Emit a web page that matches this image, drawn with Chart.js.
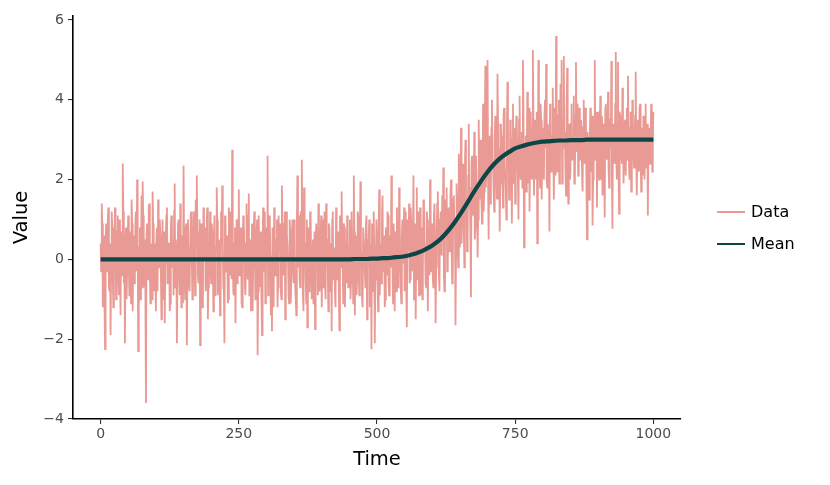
<!DOCTYPE html>
<html><head><meta charset="utf-8">
<script src="https://cdn.jsdelivr.net/npm/chart.js@4.4.1/dist/chart.umd.min.js"></script>
<style>
html,body{margin:0;padding:0;background:#fff;}
#wrap{position:relative;width:830px;height:485px;overflow:hidden;}
#legend{position:absolute;left:717px;top:0;font-family:"DejaVu Sans";font-size:16px;color:#000;}
.item{position:absolute;left:0;display:flex;align-items:center;white-space:nowrap;height:20px;line-height:20px;}
.sw{display:inline-block;width:28px;height:2px;margin-right:6px;}
</style></head>
<body><div id="wrap"><canvas id="c" width="830" height="485"></canvas><div id="legend"></div></div>
<script>
const xTicks = [0, 250, 500, 750, 1000];
const yTicks = [-4, -2, 0, 2, 4, 6];
const seriesNames = ['Data', 'Mean'];
const seriesColors = ['#E99A94', '#0D4646'];
const meanStep = 10;  // time between mean samples

// Data samples at even times t = 0, 2, ..., 1000
const dataEven = [
0.4,1.4,-1.2,0.6,-2.25,0.9,-0.3,1.3,-0.8,-1.9,1.2,-0.5,0.3,1.3,-1.0,0.7,-0.4,1.0,-1.4,0.5,2.4,-0.6,-2.1,0.8,-0.2,
1.1,-0.9,0.2,1.5,-1.3,0.6,-0.4,1.2,2.0,-2.3,0.3,-1.0,1.6,1.95,-0.7,0.5,-3.6,0.9,-0.5,1.4,-1.1,0.2,1.7,-0.8,0.4,
-1.3,0.8,1.5,-0.2,0.6,-1.5,1.0,0.1,-1.6,0.7,1.3,-0.6,0.4,-1.1,1.1,0.3,-0.9,1.9,0.5,-2.1,0.9,-0.3,1.4,-1.2,0.2,
2.35,-0.5,0.8,-2.15,1.0,-0.7,0.3,1.2,-1.0,0.6,-0.3,1.5,2.1,-0.4,0.5,-2.15,0.9,-1.2,1.3,0.0,-0.8,1.0,-1.5,0.4,1.2,
-0.6,0.7,-1.3,1.1,0.2,1.8,-0.9,0.5,-1.4,1.2,1.85,-0.7,-2.1,0.9,0.1,-1.1,1.3,-0.4,0.6,2.75,-0.8,0.4,-1.6,1.0,-0.2,
1.75,-0.3,0.8,-1.2,1.1,0.3,-0.9,1.4,-0.5,1.65,0.2,-1.3,0.9,-0.2,1.2,-1.0,0.6,-2.4,1.1,-0.7,0.4,-1.9,1.3,0.0,-1.1,
0.8,2.6,-0.6,1.0,-1.4,-1.8,0.7,1.3,-0.4,0.5,-1.2,1.1,0.2,-0.8,1.85,-0.3,0.9,-1.5,1.2,0.4,-0.9,1.0,-1.1,0.6,-0.2,
1.0,-0.7,-1.4,2.1,0.3,-0.5,1.2,2.5,-0.9,1.8,0.4,-1.1,-1.7,0.8,-0.3,1.1,-1.0,0.5,-0.4,-1.75,0.9,0.2,1.4,-0.8,0.6,
-1.2,1.0,0.1,-0.6,1.4,0.5,-1.3,0.8,-0.2,-1.8,1.2,0.3,-0.9,1.3,-0.5,0.7,-1.78,0.2,1.7,-0.4,0.9,-1.2,0.4,1.1,-0.7,
0.3,-1.0,1.2,0.0,2.1,-1.4,0.6,-0.5,1.1,-0.9,1.95,0.2,-1.2,0.8,-0.3,0.9,-1.5,0.5,1.0,-0.8,-2.25,0.4,1.2,-2.1,0.1,
0.5,-1.3,1.75,0.2,-0.6,1.6,0.4,-1.2,0.8,-0.4,1.1,-0.9,0.6,2.1,-0.2,0.9,-1.3,0.3,1.3,-0.7,1.8,0.0,-1.1,1.0,0.4,
-0.8,1.2,-1.7,0.5,1.4,-0.5,0.9,-0.2,2.1,0.3,-1.5,1.8,0.6,-0.9,1.3,0.1,-1.0,1.5,0.4,-0.6,1.2,-1.3,0.8,2.0,-0.3,
0.9,-0.7,1.4,-1.6,0.6,1.7,-0.4,1.0,0.2,1.6,2.3,-0.8,0.9,1.8,-0.2,1.3,0.5,2.0,-0.6,1.5,0.8,-1.65,1.9,0.4,2.65,
0.3,3.3,1.0,2.4,-0.2,3.0,1.4,0.6,3.4,1.8,-0.95,2.6,1.2,3.2,0.8,2.0,0.05,3.5,1.5,2.8,0.9,3.9,1.7,4.85,2.2,
5.0,0.5,3.1,1.8,4.0,2.3,1.2,3.6,2.0,4.65,1.5,0.7,3.4,2.5,1.3,3.8,2.1,1.0,4.45,2.7,1.6,3.3,0.9,3.9,2.2,
1.4,3.6,2.5,1.0,4.1,2.0,3.2,5.0,0.3,2.9,1.7,4.2,2.4,1.2,3.7,2.0,5.25,1.6,3.5,2.6,0.4,5.0,2.2,3.9,1.5,
3.3,2.0,4.0,4.9,1.8,3.1,0.7,3.7,2.4,4.3,1.5,3.0,5.6,2.2,3.6,1.9,4.4,5.0,2.6,5.1,3.2,1.6,4.8,1.4,3.4,
2.2,3.9,2.7,4.1,2.0,4.95,3.0,2.1,3.8,2.5,3.3,1.7,4.0,2.4,3.5,0.5,2.8,1.5,3.8,2.2,0.85,3.6,5.0,2.6,1.3,
3.7,2.0,4.1,2.8,1.6,3.4,1.05,3.9,2.5,4.2,1.8,3.5,4.97,0.77,3.2,2.4,5.2,2.0,4.95,1.15,3.6,2.6,4.3,1.9,3.4,
2.1,3.8,4.6,2.3,3.3,1.7,4.0,2.6,3.1,4.7,1.6,3.5,2.2,3.9,1.7,2.9,3.6,2.0,3.9,2.5,1.1,3.3,2.4,3.9,2.2,
3.7
];
// Data samples at odd times t = 1, 3, ..., 999
const dataOdd = [
-0.3,0.9,0.2,-1.1,0.5,-0.2,1.0,-0.7,0.4,-0.1,0.8,-1.2,0.6,0.1,-0.5,1.1,-0.9,0.3,0.7,-0.4,1.2,-0.1,0.5,-1.0,0.6,
-0.2,0.7,-1.1,0.9,0.1,-0.6,1.0,-0.3,0.5,-1.2,0.8,0.0,-0.7,1.1,0.3,-0.9,0.6,-0.4,1.3,-0.2,0.4,-1.0,0.9,0.2,-0.5,
0.6,-0.8,0.3,1.0,-0.4,0.2,-1.0,0.7,-0.1,1.1,-0.6,0.4,-1.3,0.8,-0.2,0.5,1.2,-0.7,0.1,-0.4,1.0,-0.9,0.3,0.6,-1.1,
0.4,-1.0,0.9,-0.3,0.6,-0.8,1.1,0.0,-0.5,1.2,-0.9,0.3,0.7,-0.6,1.0,-0.2,0.5,-1.1,0.2,0.8,-0.4,1.3,-0.7,0.1,-0.3,
0.9,-0.2,0.5,-0.9,0.3,1.0,-0.6,0.2,-1.2,0.7,0.4,-0.8,1.1,-0.3,0.6,-1.0,0.0,1.2,-0.5,0.3,-0.9,0.8,0.1,-0.6,1.0,
-0.4,0.6,-1.1,0.2,0.9,-0.7,0.4,-0.2,1.1,-0.9,0.5,0.0,-1.3,0.8,0.3,-0.5,1.0,-0.8,0.2,0.7,-1.0,0.4,-0.3,1.2,-0.6,
0.3,-0.9,1.1,0.1,-0.6,0.8,-1.2,0.5,-0.1,1.0,-0.7,0.3,0.9,-1.0,0.2,-0.4,1.2,-0.8,0.6,0.0,-1.1,0.7,-0.3,1.0,-0.6,
0.5,-1.0,0.8,-0.2,1.1,-0.7,0.2,0.6,-1.3,0.4,-0.5,1.0,0.1,-0.8,1.2,-0.4,0.3,-1.1,0.7,-0.1,0.9,-0.9,0.4,-0.6,1.1,
0.2,-0.7,1.2,-1.0,0.5,-0.3,0.9,-0.8,0.4,1.0,-0.5,0.1,-1.2,0.6,0.3,-0.9,1.1,-0.2,0.5,-1.1,0.8,0.0,-0.6,0.9,-0.3,
1.0,-0.6,0.3,-1.1,0.7,0.2,-0.9,1.2,-0.4,0.5,-0.1,-1.0,0.8,0.3,-0.7,1.1,-0.3,0.6,-1.2,0.4,0.9,-0.8,0.2,-0.5,1.0,
-0.5,0.8,-0.9,0.4,1.1,-0.3,0.6,-1.0,0.2,1.2,-0.6,0.5,-0.2,0.9,-1.1,0.3,0.7,-0.8,0.1,-0.4,1.0,-0.7,0.6,-0.1,1.3,
0.4,-0.8,1.0,0.2,-0.6,1.3,-0.3,0.7,-1.0,0.9,0.1,-0.5,1.2,0.5,-0.9,0.8,-0.2,1.4,0.3,-0.7,1.0,0.6,-0.4,1.3,0.2,
-0.5,1.1,0.3,-0.2,1.4,0.7,-0.8,1.2,0.1,0.9,-0.4,1.5,0.6,-0.3,1.3,0.2,1.7,0.4,-0.5,1.6,1.0,0.1,1.4,-0.2,1.8,
1.5,0.4,2.0,0.9,2.3,1.0,0.2,2.1,1.3,0.6,2.4,1.1,1.9,0.5,2.6,1.6,1.0,2.2,3.0,1.4,2.5,1.2,2.9,1.8,3.1,
1.9,2.9,1.4,3.3,2.5,1.7,3.0,2.2,1.5,3.4,2.8,1.9,3.1,2.0,3.6,2.4,1.8,3.2,2.6,1.5,3.5,2.3,3.0,1.9,3.3,
2.6,3.3,1.9,3.5,2.4,2.9,1.8,3.6,2.2,3.1,2.7,1.9,3.8,2.5,3.0,2.1,3.4,2.8,2.0,3.7,2.4,3.2,1.8,3.5,2.7,
2.3,3.6,2.8,2.0,3.4,2.5,3.9,2.2,3.1,2.7,3.8,2.1,3.3,2.6,4.0,2.4,3.0,1.9,3.5,2.8,2.2,3.7,2.6,3.2,2.0,
3.4,2.5,3.1,1.9,3.6,2.7,3.9,2.3,2.9,3.5,2.1,3.3,2.6,3.8,1.8,3.2,2.4,3.0,2.7,3.6,2.0,3.1,2.5,3.7,2.8,
2.4,3.3,2.0,3.6,2.9,2.2,3.8,2.6,3.1,2.3,3.5,2.8,2.1,3.4,2.7,3.9,2.5,3.0,2.2,3.7,2.9,2.4,3.2,2.6,3.5,
3.0,2.5,3.4,2.0,3.7,2.8,3.2,2.3,3.6,2.7,3.1,2.4,3.8,2.6,3.3,2.1,3.5,2.9,2.3,3.4,2.6,3.0,2.8,3.5,2.9
];
const meanValues = [
0,0,0,0,0,0,0,0,0,0,
0,0,0,0,0,0,0,0,0,0,
0,0,0,0,0,0,0,0,0,0,
0,0,0,0,0,0,0,0,0,0,
0,0,0,0,0,0,0.01,0.01,0.01,0.02,
0.02,0.03,0.03,0.05,0.06,0.08,0.11,0.15,0.20,0.27,
0.35,0.45,0.58,0.74,0.92,1.12,1.34,1.57,1.79,2.00,
2.19,2.36,2.50,2.61,2.70,2.78,2.83,2.87,2.905,2.93,
2.95,2.96,2.97,2.98,2.98,2.99,2.99,2.99,3.00,3.00,
3.00,3.00,3.00,3.00,3.00,3.00,3.00,3.00,3.00,3.00,
3.00
];

const dataPoints = dataEven.map((v, i) => ({x: 2 * i, y: v}))
  .concat(dataOdd.map((v, i) => ({x: 2 * i + 1, y: v})))
  .sort((a, b) => a.x - b.x);
const meanPoints = meanValues.map((v, i) => ({x: i * meanStep, y: v}));

const font = 'DejaVu Sans';
const ctx = document.getElementById('c').getContext('2d');
const axisCommon = {
  grid: {display: true, drawOnChartArea: false, drawTicks: true, tickLength: 5, color: '#333333', lineWidth: 1.1},
  border: {display: true, color: '#000000', width: 1.6}
};
new Chart(ctx, {
  type: 'line',
  data: {
    datasets: [
      {label: seriesNames[0], data: dataPoints,
       borderColor: seriesColors[0], backgroundColor: seriesColors[0], borderWidth: 1.8,
       pointRadius: 0, tension: 0, fill: false, order: 2},
      {label: seriesNames[1], data: meanPoints,
       borderColor: seriesColors[1], backgroundColor: seriesColors[1], borderWidth: 4.2,
       pointRadius: 0, cubicInterpolationMode: 'monotone', fill: false, order: 1}
    ]
  },
  options: {
    responsive: false, animation: false, devicePixelRatio: 1,
    layout: {padding: {top: 16, right: 149, left: 0, bottom: 0}},
    plugins: {legend: {display: false}, tooltip: {enabled: false}},
    scales: {
      x: Object.assign({}, axisCommon, {
        type: 'linear', min: -50, max: 1050,
        afterBuildTicks: s => { s.ticks = xTicks.map(v => ({value: v})); },
        afterFit: s => { s.height = 66; },
        ticks: {font: {family: font, size: 14}, color: '#4D4D4D', padding: 2, maxRotation: 0, autoSkip: false,
                callback: v => String(v)},
        title: {display: true, text: 'Time', font: {family: font, size: 19.5}, color: '#000', padding: {top: 0, bottom: 13}}
      }),
      y: Object.assign({}, axisCommon, {
        type: 'linear', min: -4, max: 6.1,
        afterBuildTicks: s => { s.ticks = yTicks.map(v => ({value: v})); },
        afterFit: s => { s.width = 73; },
        ticks: {font: {family: font, size: 14}, color: '#4D4D4D', padding: 4,
                callback: v => String(v).replace('-', '\u2212')},
        title: {display: true, text: 'Value', font: {family: font, size: 19.5}, color: '#000', padding: {top: 10, bottom: 0}}
      })
    }
  }
});

const legend = document.getElementById('legend');
const legendTops = [202, 234];
seriesNames.forEach((name, i) => {
  const item = document.createElement('div');
  item.className = 'item';
  item.style.top = legendTops[i] + 'px';
  const sw = document.createElement('span');
  sw.className = 'sw';
  sw.style.background = seriesColors[i];
  item.appendChild(sw);
  item.appendChild(document.createTextNode(name));
  legend.appendChild(item);
});
</script>
</body></html>
